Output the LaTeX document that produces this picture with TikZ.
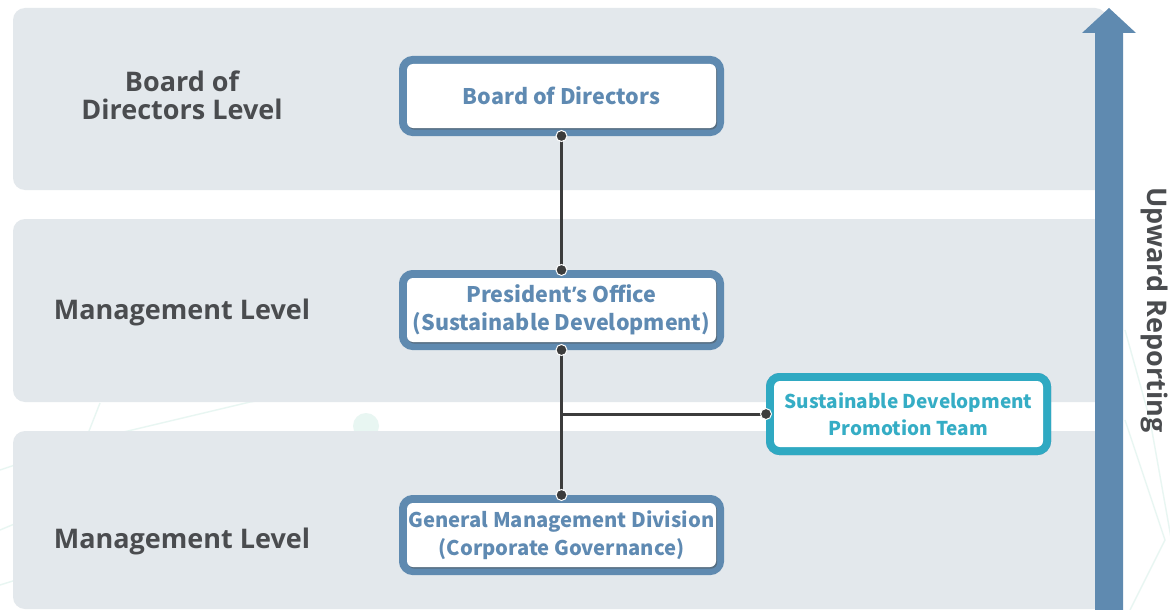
\documentclass[tikz,border=0pt]{standalone}
\usepackage{fontspec}
\setmainfont{Noto Sans CJK SC}
\newfontfamily\labelfont{Open Sans}
\newcommand\apos{{\labelfont\bfseries ’}}
\usetikzlibrary{shadows}
\definecolor{bandgray}{HTML}{E3E8EC}
\definecolor{steel}{HTML}{5F8AB0}
\definecolor{steeltext}{HTML}{5F8AB2}
\definecolor{teal}{HTML}{2FA9C2}
\definecolor{tealtext}{HTML}{35ADC5}
\definecolor{labelgray}{HTML}{4A4C4F}
\definecolor{linkgray}{HTML}{3C3C3C}
\definecolor{mint}{HTML}{E8F6F2}
\begin{document}
\begin{tikzpicture}[x=1pt,y=-1pt,
  band/.style={fill=bandgray,rounded corners=12pt},
  orgbox/.style={fill=white,rounded corners=6pt,align=center,
    font=\bfseries\fontsize{21.5}{28.5}\selectfont,text=steeltext,
    minimum width=309pt,minimum height=64pt,inner sep=0pt,outer sep=8pt,
    preaction={draw=steel,line width=16pt},
    drop shadow={shadow xshift=1.2pt,shadow yshift=-1.6pt,opacity=.45,fill=black!70}},
  teambox/.style={orgbox,text=tealtext,preaction={draw=teal,line width=16pt},
    font=\bfseries\fontsize{19}{27}\selectfont,minimum width=269pt,minimum height=66pt},
  levellabel/.style={font=\labelfont\bfseries\fontsize{27}{28}\selectfont,text=labelgray,align=center},
  link/.style={draw=linkgray,line width=3pt},
  joint/.style={circle,fill=linkgray,draw=white,line width=1pt,minimum size=11pt,inner sep=0pt}]
\useasboundingbox (0,0) rectangle (1170,610);
\fill[white] (0,0) rectangle (1170,610);

% faint background tracery
\begin{scope}[draw=mint,line width=1.4pt]
  \draw (0,470) -- (90,440) -- (250,402) -- (420,375);
  \draw (0,530) -- (60,505) -- (100,403);
  \draw (0,585) -- (80,560);
  \draw (1125,330) -- (1150,420) -- (1175,560);
  \draw (1125,420) -- (1165,540) -- (1130,610);
  \fill[mint] (366,426) circle (13pt);
\end{scope}

% level bands
\fill[band] (13,8) rectangle (1107,190);
\fill[band] (13,219) rectangle (1107,402);
\fill[band] (13,431) rectangle (1107,609);

% upward reporting arrow
\fill[steel] (1095,610) -- (1095,33) -- (1082,33) -- (1109,8) -- (1136,33)
  -- (1123,33) -- (1123,610) -- cycle;
\node[levellabel,rotate=-90] (up) at (1154,310) {Upward Reporting};

% level labels
\node[levellabel] (lvlbod) at (182,95) {Board of\\Directors Level};
\node[levellabel] (lvlmgmt) at (182,312) {Management Level};
\node[levellabel] (lvlgov) at (182,541) {Management Level};

% organisation boxes
\node[orgbox] (bod) at (561.5,96) {\raisebox{-2pt}{Board of Directors}};
\node[orgbox] (pres) at (561.5,310) {President\apos s Office\\(Sustainable Development)};
\node[orgbox,font=\bfseries\fontsize{20.2}{28.5}\selectfont] (gmd) at (561.5,535)
  {General Management Division\\(Corporate Governance)};
\node[teambox] (team) at (908.5,414) {Sustainable Development\\Promotion Team};

% connectors
\coordinate (branch) at (pres.south |- team.west);
\draw[link] (bod.south) -- (pres.north);
\draw[link] (pres.south) -- (gmd.north);
\draw[link] (branch) -- (team.west);
\node[joint] (j1) at (bod.south) {};
\node[joint] (j2) at (pres.north) {};
\node[joint] (j3) at (pres.south) {};
\node[joint] (j4) at (gmd.north) {};
\node[joint] (j5) at (team.west) {};
\end{tikzpicture}
\end{document}
